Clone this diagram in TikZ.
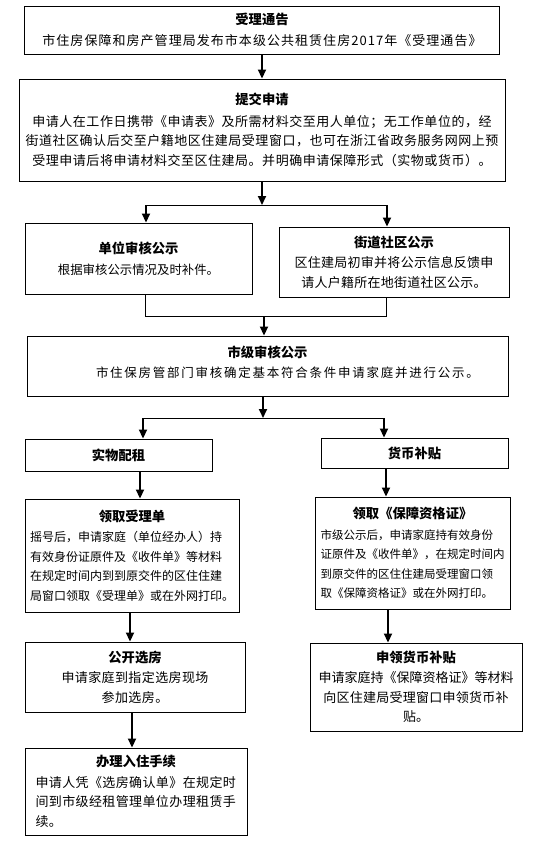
\documentclass[tikz,border=0pt]{standalone}
\usepackage{fontspec}
\setmainfont{Noto Sans CJK SC}
\usetikzlibrary{arrows.meta}
\newcommand\ttl[1]{{\fontsize{13.3}{19.5}\selectfont\bfseries #1}}
\newcommand\lsp[2]{{\addfontfeature{LetterSpace=#1}#2}}
\newcommand\fs[1]{\fontsize{#1}{19.5}\selectfont}
\begin{document}
\begin{tikzpicture}[x=1pt,y=-1pt,
  box/.style={draw, line width=0.9pt, inner sep=0pt, align=center},
  arr/.style={-{Triangle[length=9pt,width=8pt]}, line width=1.8pt},
  ln/.style={line width=1pt}]
\useasboundingbox[fill=white] (0,0) rectangle (550,856);

\node[box, minimum width=475pt, minimum height=48pt, font=\fs{13}] (b1) at (262,30)
  {\ttl{受理通告}\\[1pt]\lsp{8}{市住房保障和房产管理局发布市本级公共租赁住房2017年《受理通告》}};

\node[box, minimum width=486pt, minimum height=102pt, font=\fs{13}] (b2) at (262,130)
  {\ttl{提交申请}\\[2pt]
   \lsp{4}{申请人在工作日携带《申请表》及所需材料交至用人单位；无工作单位的，经}\\
   \lsp{4}{街道社区确认后交至户籍地区住建局受理窗口，也可在浙江省政务服务网网上预}\\
   \lsp{4}{受理申请后将申请材料交至区住建局。并明确申请保障形式（实物或货币）。}};

\node[box, minimum width=227pt, minimum height=71pt, font=\fs{12.4}] (b3) at (138.5,258.5)
  {\ttl{单位审核公示}\\[1pt]根据审核公示情况及时补件。};

\node[box, minimum width=230pt, minimum height=70pt, font=\fs{13}] (b4) at (394,262)
  {\ttl{街道社区公示}\\[1pt]\lsp{2}{区住建局初审并将公示信息反馈申}\\\lsp{2}{请人户籍所在地街道社区公示。}};

\node[box, minimum width=481pt, minimum height=60pt, font=\fs{12.5}] (b5) at (267.5,366) {};
\node[font=\fs{12.5}, align=center, inner sep=0pt] (t5) at (267.5,362.5)
  {\ttl{市级审核公示}\\[1pt]\hspace*{40pt}\lsp{14}{市住保房管部门审核确定基本符合条件申请家庭并进行公示。}};

\node[box, minimum width=187pt, minimum height=32pt] (b6) at (118.5,455) {\ttl{实物配租}};
\node[box, minimum width=187pt, minimum height=30pt] (b7) at (414.5,453) {\ttl{货币补贴}};

\node[box, minimum width=214pt, minimum height=113pt, font=\fs{12}] (b8) at (132,555.5)
  {\ttl{领取受理单}\\[1pt]
   \makebox[204pt][l]{摇号后，申请家庭（单位经办人）持}\\
   \makebox[204pt][l]{有效身份证原件及《收件单》等材料}\\
   \makebox[204pt][l]{在规定时间内到到原交件的区住住建}\\
   \makebox[204pt][l]{局窗口领取《受理单》或在外网打印。}};

\node[box, minimum width=195pt, minimum height=112pt, font=\fs{11.5}] (b9) at (412.5,553)
  {\ttl{领取《保障资格证》}\\[1pt]
   \makebox[184pt][l]{市级公示后，申请家庭持有效身份}\\
   \makebox[184pt][l]{证原件及《收件单》，在规定时间内}\\
   \makebox[184pt][l]{到原交件的区住住建局受理窗口领}\\
   \makebox[184pt][l]{取《保障资格证》或在外网打印。}};

\node[box, minimum width=220pt, minimum height=70pt, font=\fs{13}] (b10) at (135,677)
  {\ttl{公开选房}\\[1pt]\lsp{3}{申请家庭到指定选房现场}\\\lsp{3}{参加选房。}};

\node[box, minimum width=212pt, minimum height=88pt, font=\fs{13}] (b11) at (416,687)
  {\ttl{申领货币补贴}\\[1pt]申请家庭持《保障资格证》等材料\\\lsp{2}{向区住建局受理窗口申领货币补}\\贴。};

\node[box, minimum width=222pt, minimum height=87pt, font=\fs{13}] (b12) at (136,791.5)
  {\ttl{办理入住手续}\\[1pt]
   \makebox[201pt][l]{\lsp{3}{申请人凭《选房确认单》在规定时}}\\
   \makebox[201pt][l]{\lsp{3}{间到市级经租管理单位办理租赁手}}\\
   \makebox[201pt][l]{\lsp{3}{续。}}};

% junction coordinates
\coordinate (j1) at (262,205);
\coordinate (j1l) at (146,205);
\coordinate (j1r) at (387,205);
\coordinate (j2) at (264,316);
\coordinate (j2l) at (145,316);
\coordinate (j2r) at (386,316);
\coordinate (j3) at (263,418);
\coordinate (j3l) at (143,418);
\coordinate (j3r) at (384,418);
\coordinate (x68) at (140,480);
\coordinate (x79) at (386,480);
\coordinate (x810) at (130,630);
\coordinate (x911) at (388,630);
\coordinate (x1012) at (132,730);

\draw[arr] (b1.south) -- (b2.north);
\draw[arr] (b2.south) -- (j1);
\draw[ln] (j1l) -- (j1r);
\draw[arr] (j1l) -- (j1l |- b3.north);
\draw[arr] (j1r) -- (j1r |- b4.north);
\draw[ln] (b3.south -| j2l) -- (j2l) -- (j2r) -- (b4.south -| j2r);
\draw[arr] (j2) -- (j2 |- b5.north);
\draw[arr] (b5.south -| j3) -- (j3);
\draw[ln] (j3l) -- (j3r);
\draw[arr] (j3l) -- (j3l |- b6.north);
\draw[arr] (j3r) -- (j3r |- b7.north);
\draw[arr] (b6.south -| x68) -- (b8.north -| x68);
\draw[arr] (b7.south -| x79) -- (b9.north -| x79);
\draw[arr] (b8.south -| x810) -- (b10.north -| x810);
\draw[arr] (b9.south -| x911) -- (b11.north -| x911);
\draw[arr] (b10.south -| x1012) -- (b12.north -| x1012);
\end{tikzpicture}
\end{document}
